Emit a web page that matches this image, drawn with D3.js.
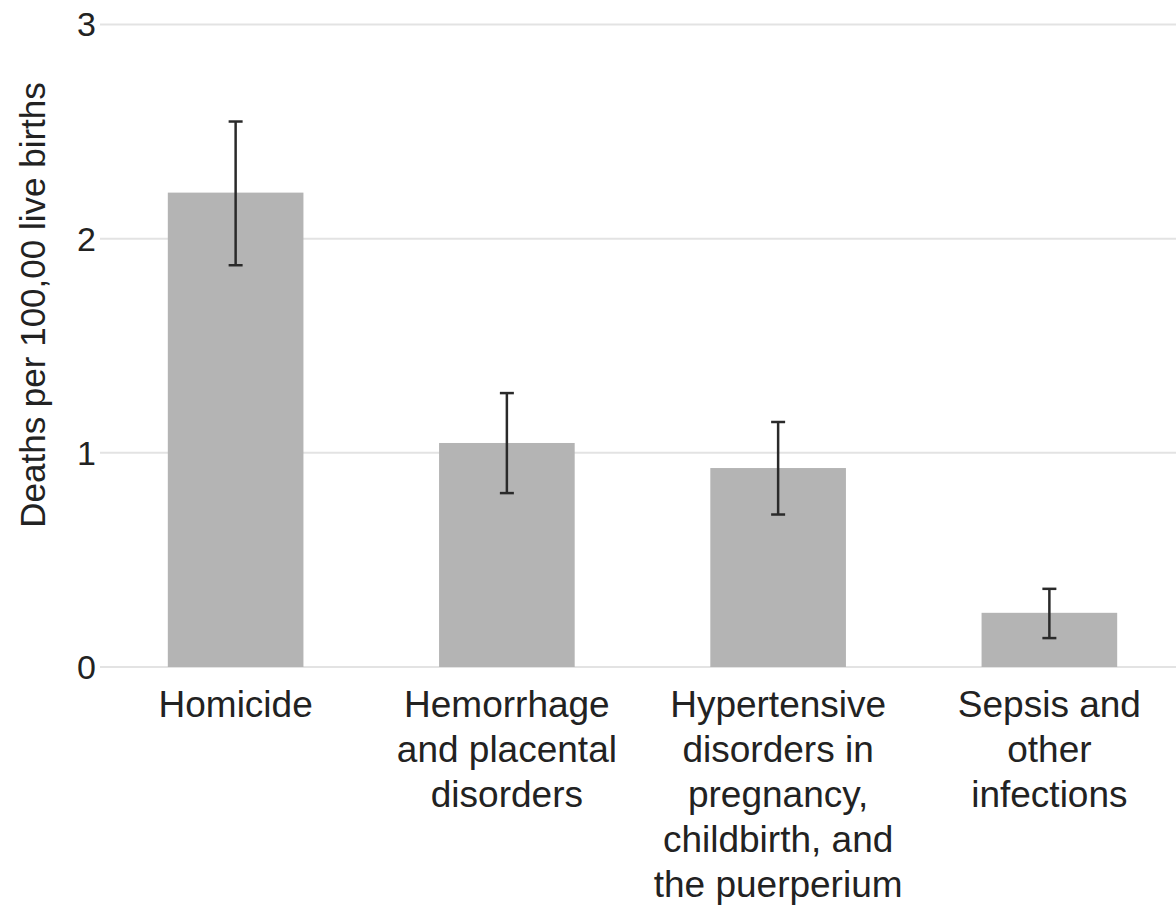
<!DOCTYPE html>
<html>
<head>
<meta charset="utf-8">
<script src="https://cdn.jsdelivr.net/npm/d3@7"></script>
<style>
  html, body { margin: 0; padding: 0; background: #fff; }
  svg { display: block; font-family: "Liberation Sans", Arial, sans-serif; }
</style>
</head>
<body>
<svg id="chart" width="1176" height="912"></svg>
<script>
const categories = [
  ["Homicide"],
  ["Hemorrhage", "and placental", "disorders"],
  ["Hypertensive", "disorders in", "pregnancy,", "childbirth, and", "the puerperium"],
  ["Sepsis and", "other", "infections"]
];
const categoryKeys = ["Homicide", "Hemorrhage", "Hypertensive", "Sepsis"];
const values = [2.215, 1.046, 0.929, 0.253];
const lowerCI = [1.876, 0.812, 0.712, 0.135];
const upperCI = [2.547, 1.279, 1.144, 0.365];
const yTicks = [0, 1, 2, 3];
const yTitle = "Deaths per 100,00 live births";

const svg = d3.select("#chart");
const x0 = 100, x1 = 1185, yTop = 24.5, yBottom = 667;

const x = d3.scaleBand().domain(categoryKeys).range([x0, x1]).paddingInner(0.5).paddingOuter(0.25);
const y = d3.scaleLinear().domain([0, 3]).range([yBottom, yTop]);

// gridlines
svg.append("g").selectAll("line").data(yTicks).join("line")
  .attr("x1", x0).attr("x2", 1176)
  .attr("y1", d => y(d)).attr("y2", d => y(d))
  .attr("stroke", "#e3e3e3").attr("stroke-width", 2);

// y tick labels
svg.append("g").selectAll("text").data(yTicks).join("text")
  .attr("x", 96).attr("y", d => y(d)).attr("dy", "0.35em")
  .attr("text-anchor", "end").attr("font-size", 34).attr("fill", "#222")
  .text(d => d);

// y title
svg.append("text")
  .attr("transform", `translate(45, 305) rotate(-90)`)
  .attr("text-anchor", "middle").attr("font-size", 35).attr("fill", "#222")
  .text(yTitle);

// bars
svg.append("g").selectAll("rect").data(categoryKeys).join("rect")
  .attr("x", d => x(d)).attr("width", x.bandwidth())
  .attr("y", (d, i) => y(values[i])).attr("height", (d, i) => y(0) - y(values[i]))
  .attr("fill", "#b4b4b4");

// error bars
const eb = svg.append("g").attr("stroke", "#2a2a2a").attr("stroke-width", 2.5);
categoryKeys.forEach((k, i) => {
  const cx = x(k) + x.bandwidth() / 2;
  eb.append("line").attr("x1", cx).attr("x2", cx).attr("y1", y(upperCI[i])).attr("y2", y(lowerCI[i]));
  eb.append("line").attr("x1", cx - 7).attr("x2", cx + 7).attr("y1", y(upperCI[i])).attr("y2", y(upperCI[i]));
  eb.append("line").attr("x1", cx - 7).attr("x2", cx + 7).attr("y1", y(lowerCI[i])).attr("y2", y(lowerCI[i]));
});

// category labels
categoryKeys.forEach((k, i) => {
  const cx = x(k) + x.bandwidth() / 2;
  const t = svg.append("text").attr("text-anchor", "middle").attr("font-size", 37).attr("fill", "#222");
  categories[i].forEach((line, j) => {
    t.append("tspan").attr("x", cx).attr("y", 717 + j * 45).text(line);
  });
});
</script>
</body>
</html>
